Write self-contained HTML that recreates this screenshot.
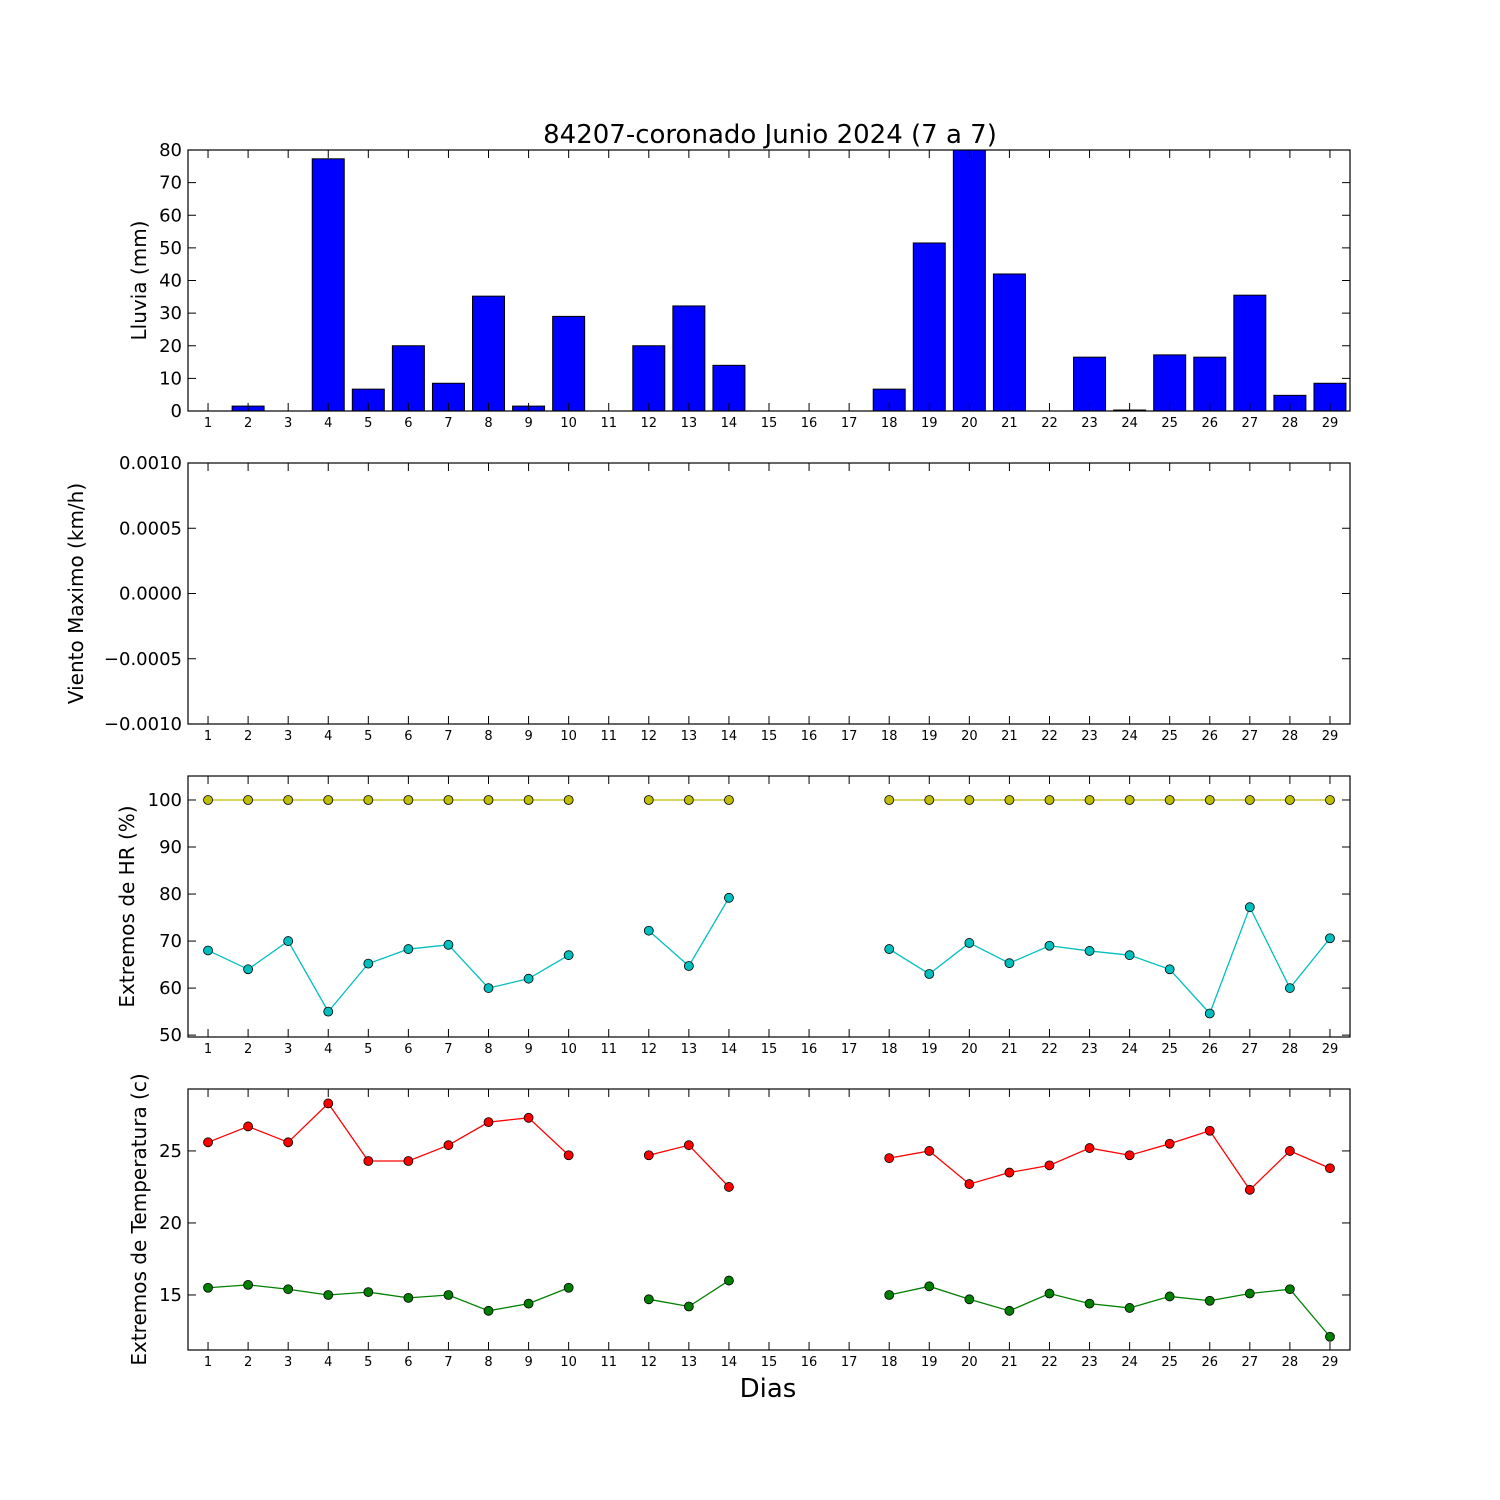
<!DOCTYPE html>
<html><head><meta charset="utf-8"><style>
body{margin:0;background:#fff}
svg{display:block;font-family:"DejaVu Sans","Liberation Sans",sans-serif}
</style></head><body>
<svg id="chart" width="1500" height="1500" viewBox="0 0 1500 1500" xmlns="http://www.w3.org/2000/svg">
<rect width="1500" height="1500" fill="#fff"/>
<text x="770" y="143" font-size="26" text-anchor="middle">84207-coronado Junio 2024  (7 a 7)</text>
<text x="768" y="1397" font-size="26" text-anchor="middle">Dias</text>
</svg>
<script>
const days=[1,2,3,4,5,6,7,8,9,10,11,12,13,14,15,16,17,18,19,20,21,22,23,24,25,26,27,28,29];
const rain=[0,1.5,0,77.3,6.7,20,8.5,35.2,1.5,29,null,20,32.2,14,null,null,null,6.7,51.5,85,42,null,16.5,0.3,17.2,16.5,35.5,4.8,8.5];
const hrMax=[100,100,100,100,100,100,100,100,100,100,null,100,100,100,null,null,null,100,100,100,100,100,100,100,100,100,100,100,100];
const hrMin=[68,64,70,55,65.2,68.3,69.2,60,62,67,null,72.2,64.7,79.2,null,null,null,68.3,63,69.6,65.3,69,67.9,67,64,54.6,77.2,60,70.6];
const tMax=[25.6,26.7,25.6,28.3,24.3,24.3,25.4,27,27.3,24.7,null,24.7,25.4,22.5,null,null,null,24.5,25,22.7,23.5,24,25.2,24.7,25.5,26.4,22.3,25,23.8];
const tMin=[15.5,15.7,15.4,15,15.2,14.8,15,13.9,14.4,15.5,null,14.7,14.2,16,null,null,null,15,15.6,14.7,13.9,15.1,14.4,14.1,14.9,14.6,15.1,15.4,12.1];
const rainTicks=[0,10,20,30,40,50,60,70,80];
const windTicks=[-0.001,-0.0005,0,0.0005,0.001];
const windLabels=["\u22120.0010","\u22120.0005","0.0000","0.0005","0.0010"];
const hrTicks=[50,60,70,80,90,100];
const tTicks=[15,20,25];

const NS="http://www.w3.org/2000/svg";
const svg=document.getElementById('chart');
const L=188,R=1350;
const xs=d=>L+(d-0.5)*(R-L)/29;
function mk(tag,attrs,parent){const e=document.createElementNS(NS,tag);for(const k in attrs)e.setAttribute(k,attrs[k]);(parent||svg).appendChild(e);return e;}
function panel(name,top,bot,ymin,ymax,ticks,labels,ytitle){
  const g=mk('g',{});
  
  
  const ys=v=>bot-(v-ymin)/(ymax-ymin)*(bot-top);
  const clip=mk('clipPath',{id:'c'+name},g);mk('rect',{x:L,y:top,width:R-L,height:bot-top},clip);
  const plot=mk('g',{'clip-path':'url(#c'+name+')'},g);
  ticks.forEach((t,i)=>{const y=ys(t);
    const tk=mk('g',{},g);
    
    
    mk('line',{x1:L,x2:L+8,y1:y,y2:y,stroke:'#000'},tk);
    mk('line',{x1:R,x2:R-8,y1:y,y2:y,stroke:'#000'},tk);
    const tx=mk('text',{x:L-6,y:y+6,'font-size':18,'text-anchor':'end'},tk);tx.textContent=labels?labels[i]:t;});
  days.forEach(d=>{const x=xs(d);
    mk('line',{x1:x,x2:x,y1:bot,y2:bot-8,stroke:'#000'},g);
    mk('line',{x1:x,x2:x,y1:top,y2:top+8,stroke:'#000'},g);
    const tx=mk('text',{x:x,y:bot+16,'font-size':13,'text-anchor':'middle'},g);
    
    
    tx.textContent=d;});
  const cy=(top+bot)/2,tt=mk('text',{x:0,y:0,'font-size':20,'text-anchor':'middle',transform:`translate(${ytitle[1]},${cy}) rotate(-90)`},g);
  
  
  tt.textContent=ytitle[0];
  return {g,plot,ys,top,bot};
}
function series(p,vals,color,name){
  let segs=[],cur=[];
  vals.forEach((v,i)=>{if(v==null){if(cur.length)segs.push(cur);cur=[];}else cur.push([xs(days[i]),p.ys(v)]);});
  if(cur.length)segs.push(cur);
  segs.forEach(s=>{const l=mk('polyline',{points:s.map(q=>q.join(',')).join(' '),fill:'none',stroke:color,'stroke-width':1.3},p.plot);
    
    });
  vals.forEach((v,i)=>{if(v==null)return;const c=mk('circle',{cx:xs(days[i]),cy:p.ys(v),r:4.5,fill:color,stroke:'#000','stroke-width':0.8},p.plot);
    
    });
}
const p1=panel('rain-panel',150,411,0,80,rainTicks,null,['Lluvia (mm)',146]);
rain.forEach((v,i)=>{if(v==null)return;const x=xs(days[i]);const b=mk('rect',{x:x-16,y:p1.ys(v),width:32,height:p1.ys(0)-p1.ys(v),fill:'#0000ff',stroke:'#000','stroke-width':1},p1.plot);
  
  });
const p2=panel('wind-panel',463,724,-0.001,0.001,windTicks,windLabels,['Viento Maximo (km/h)',83]);
const p3=panel('humidity-panel',776,1037,49.6,105.1,hrTicks,null,['Extremos de HR (%)',134]);
series(p3,hrMax,'#bfbf00','hr-max');
series(p3,hrMin,'#00bfbf','hr-min');
const p4=panel('temperature-panel',1089,1350,11.18,29.3,tTicks,null,['Extremos de Temperatura (c)',146]);
series(p4,tMax,'#ff0000','temp-max');
series(p4,tMin,'#008000','temp-min');
[p1,p2,p3,p4].forEach(p=>{mk('rect',{x:L,y:p.top,width:R-L,height:p.bot-p.top,fill:'none',stroke:'#000','stroke-width':1.2},p.g);});
</script>
</body></html>
